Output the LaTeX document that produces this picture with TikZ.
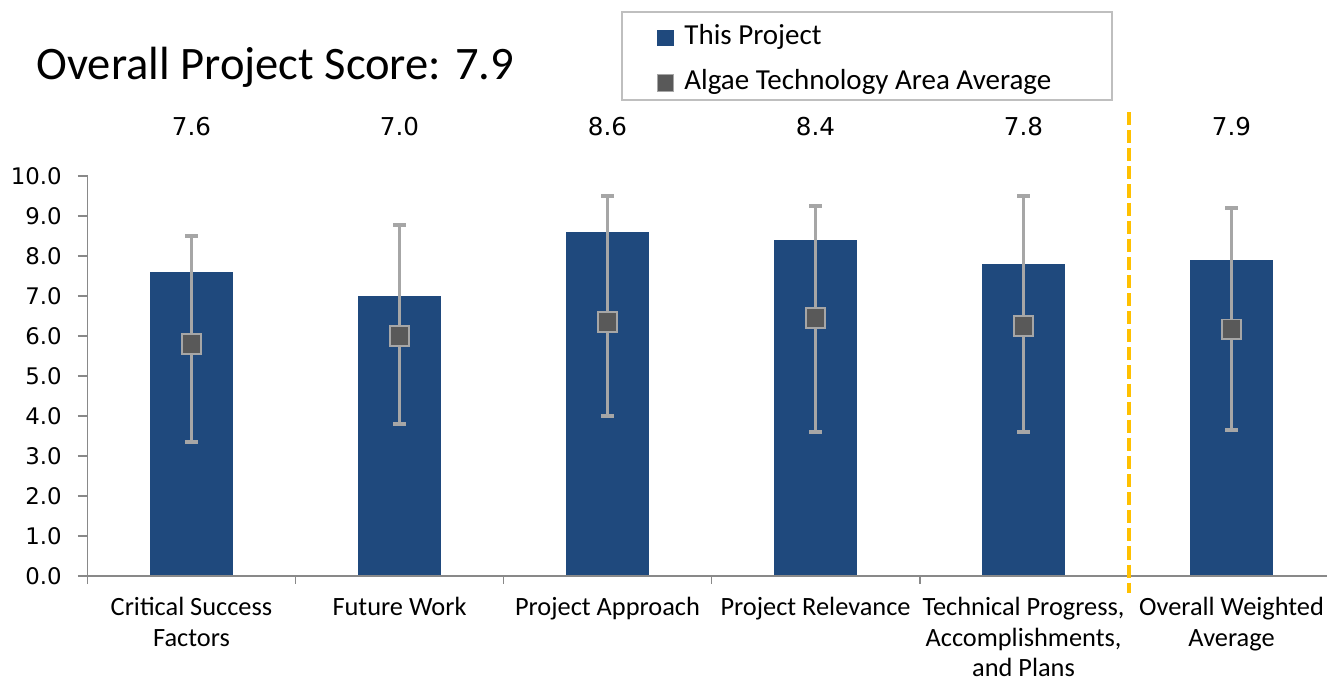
\documentclass[tikz,border=0pt]{standalone}
\usepackage{fontspec}
\setmainfont{Carlito}
\newfontfamily\numfont{DejaVu Sans}
\usepackage{tikz}
\usetikzlibrary{calc}
\definecolor{barblue}{HTML}{1F497D}
\definecolor{avggray}{HTML}{595959}
\definecolor{errgray}{HTML}{A6A6A6}
\definecolor{axisgray}{HTML}{898989}
\definecolor{boxgray}{HTML}{BFBFBF}
\definecolor{divyellow}{HTML}{FFC000}
\tikzset{
	barfill/.style={fill=barblue},
	errbar/.style={line width=2pt, color=errgray},
	avgmark/.style={draw=errgray, line width=1pt, fill=avggray, minimum size=11pt, inner sep=0pt},
	axisline/.style={line width=1.1pt, color=axisgray},
	ticklabel/.style={anchor=east, inner sep=0pt, font=\numfont\fontsize{13}{15}\selectfont},
	vallabel/.style={anchor=base, inner sep=0pt, font=\numfont\fontsize{14}{16}\selectfont},
	catlabel/.style={anchor=north, align=center, inner sep=0pt, font=\fontsize{15}{17.2}\selectfont},
	legendtext/.style={anchor=base west, inner sep=0pt, font=\fontsize{16.5}{18}\selectfont},
	legendkey/.style={minimum size=9.5pt, inner sep=0pt}
}
\def\scorebar[#1](#2)(#3:#4:#5:#6){
	\fill[barfill] (#2-0.2, 0) rectangle (#2+0.2, #3);
	\coordinate (#1lo) at (#2, #4);
	\coordinate (#1hi) at (#2, #5);
	\draw[errbar] (#1lo) -- (#1hi);
	\draw[errbar] (#2-0.03, #4) -- (#2+0.03, #4);
	\draw[errbar] (#2-0.03, #5) -- (#2+0.03, #5);
	\node[avgmark] (#1avg) at (#2, #6) {};
}

\begin{document}
\begin{tikzpicture}[x=4.16cm, y=0.8cm]
			%%%%% START %%%%%
			
			\useasboundingbox (-0.4207, -2.65) rectangle (5.959, 14.4);
			
			\node[anchor=base west, inner sep=0pt, font=\fontsize{26.5}{30}\selectfont] (title) at (-0.2476, 12.425) {Overall Project Score: 7.9};
			
			\draw[line width=0.8pt, color=boxgray] (2.570, 11.9) rectangle (4.925, 14.1);
			\node[legendkey, fill=barblue] (keyproj) at (2.779, 13.45) {};
			\node[legendtext] (legproj) at (2.868, 13.275) {This Project};
			\node[legendkey, fill=avggray, draw=errgray, line width=0.6pt] (keyavg) at (2.779, 12.33) {};
			\node[legendtext] (legavg) at (2.868, 12.175) {Algae Technology Area Average};
			
			\scorebar[csf](0.5)(7.6:3.35:8.5:5.8);
			\scorebar[fw](1.5)(7.0:3.8:8.78:6.0);
			\scorebar[pa](2.5)(8.6:4.0:9.5:6.35);
			\scorebar[pr](3.5)(8.4:3.6:9.25:6.45);
			\scorebar[tp](4.5)(7.8:3.6:9.5:6.25);
			\scorebar[ow](5.5)(7.9:3.65:9.2:6.17);
			
			\draw[axisline] (0, -0.2) -- (0, 10);
			\draw[axisline] (-0.046, 0) -- (5.959, 0);
			\draw[axisline] (-0.046, 1) -- (0, 1);
			\draw[axisline] (-0.046, 2) -- (0, 2);
			\draw[axisline] (-0.046, 3) -- (0, 3);
			\draw[axisline] (-0.046, 4) -- (0, 4);
			\draw[axisline] (-0.046, 5) -- (0, 5);
			\draw[axisline] (-0.046, 6) -- (0, 6);
			\draw[axisline] (-0.046, 7) -- (0, 7);
			\draw[axisline] (-0.046, 8) -- (0, 8);
			\draw[axisline] (-0.046, 9) -- (0, 9);
			\draw[axisline] (-0.046, 10) -- (0, 10);
			\draw[axisline] (1, 0) -- (1, -0.2);
			\draw[axisline] (2, 0) -- (2, -0.2);
			\draw[axisline] (3, 0) -- (3, -0.2);
			\draw[axisline] (4, 0) -- (4, -0.2);
			
			\node[ticklabel] (y0) at (-0.1226, 0) {0.0};
			\node[ticklabel] (y1) at (-0.1226, 1) {1.0};
			\node[ticklabel] (y2) at (-0.1226, 2) {2.0};
			\node[ticklabel] (y3) at (-0.1226, 3) {3.0};
			\node[ticklabel] (y4) at (-0.1226, 4) {4.0};
			\node[ticklabel] (y5) at (-0.1226, 5) {5.0};
			\node[ticklabel] (y6) at (-0.1226, 6) {6.0};
			\node[ticklabel] (y7) at (-0.1226, 7) {7.0};
			\node[ticklabel] (y8) at (-0.1226, 8) {8.0};
			\node[ticklabel] (y9) at (-0.1226, 9) {9.0};
			\node[ticklabel] (y10) at (-0.1226, 10) {10.0};
			
			\draw[line width=2.5pt, color=divyellow, dash pattern=on 7.5pt off 2.8pt] (5.007, 11.6) -- (5.007, -0.425);
			
			\node[vallabel] (val1) at (0.5, 11.025) {7.6};
			\node[vallabel] (val2) at (1.5, 11.025) {7.0};
			\node[vallabel] (val3) at (2.5, 11.025) {8.6};
			\node[vallabel] (val4) at (3.5, 11.025) {8.4};
			\node[vallabel] (val5) at (4.5, 11.025) {7.8};
			\node[vallabel] (val6) at (5.5, 11.025) {7.9};
			
			\node[catlabel] (cat1) at (0.5, -0.53) {Critical Success\\Factors};
			\node[catlabel] (cat2) at (1.5, -0.53) {Future Work};
			\node[catlabel] (cat3) at (2.5, -0.53) {Project Approach};
			\node[catlabel] (cat4) at (3.5, -0.53) {Project Relevance};
			\node[catlabel] (cat5) at (4.5, -0.53) {Technical Progress,\\Accomplishments,\\and Plans};
			\node[catlabel] (cat6) at (5.5, -0.53) {Overall Weighted\\Average};
			
			%%%%% END %%%%%
\end{tikzpicture}
\end{document}
